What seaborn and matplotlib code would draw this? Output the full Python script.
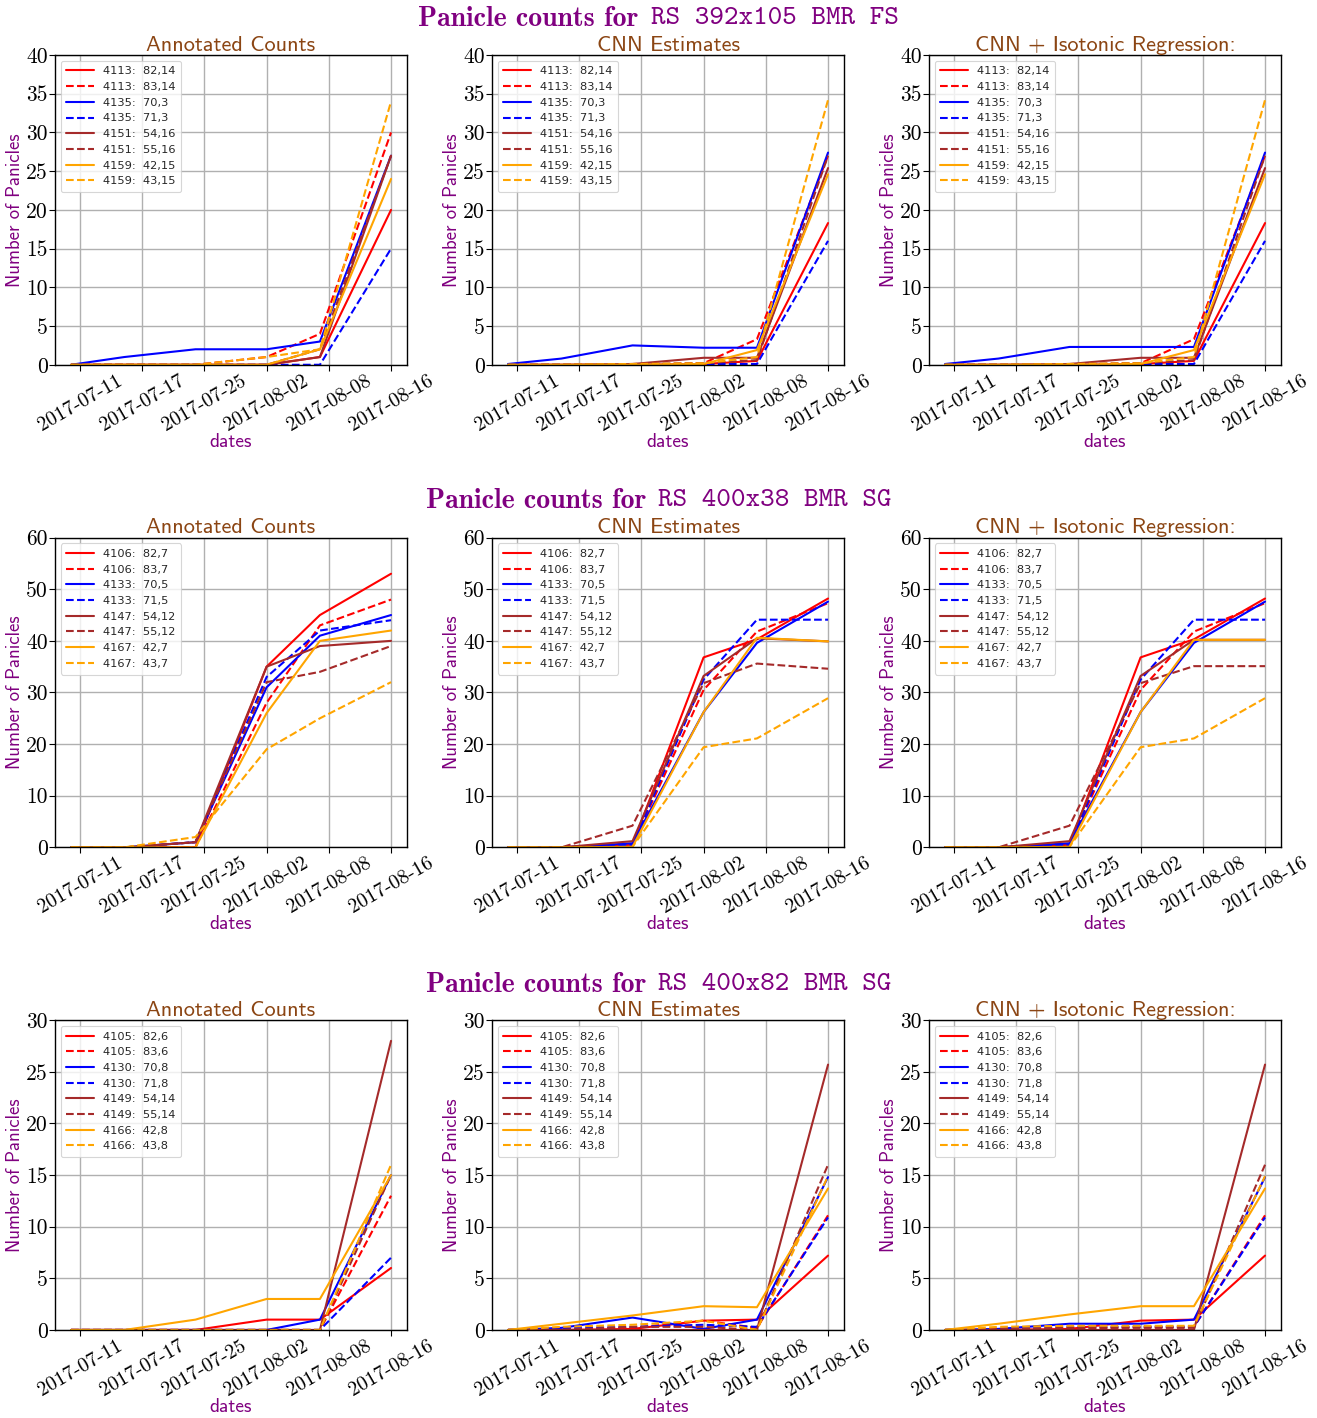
import matplotlib
matplotlib.use("Agg")
import numpy as np
import pandas as pd
import matplotlib.pyplot as plt
import seaborn as sns

# ---------------- data ----------------
dates = ["2017-07-11", "2017-07-17", "2017-07-25", "2017-08-02", "2017-08-08", "2017-08-16"]
tick_labels = ["2017-07-11", "2017-07-17", "2017-07-25", "2017-08-02", "2017-08-08", "2017-08-16"]

row_title_prefix = "Panicle counts for"
row_titles = ["RS 392x105 BMR FS", "RS 400x38 BMR SG", "RS 400x82 BMR SG"]
panel_titles = ["Annotated Counts", "CNN Estimates", "CNN + Isotonic Regression:"]

colors = ["red", "red", "blue", "blue", "brown", "brown", "orange", "orange"]
styles = ["-", "--", "-", "--", "-", "--", "-", "--"]

r1_labels = ["4113:  82,14", "4113:  83,14", "4135:  70,3", "4135:  71,3",
             "4151:  54,16", "4151:  55,16", "4159:  42,15", "4159:  43,15"]
r1_annot = [[0, 0, 0, 0, 1, 20], [0, 0, 0, 1, 4, 30], [0, 1, 2, 2, 3, 27], [0, 0, 0, 0, 0, 15],
            [0, 0, 0, 0, 1, 27], [0, 0, 0, 0, 2, 27], [0, 0, 0, 0, 2, 24], [0, 0, 0, 1, 2, 34]]
r1_cnn = [[0, 0, 0, 0.1, 0.5, 18.3], [0, 0, 0, 0.2, 3.3, 27.0], [0.1, 0.8, 2.5, 2.2, 2.2, 27.4],
          [0, 0, 0, 0.1, 0.1, 16.0], [0, 0, 0.1, 0.9, 0.9, 25.4], [0, 0, 0.1, 0.2, 0.6, 27.0],
          [0, 0, 0, 0.1, 1.9, 24.6], [0, 0, 0.1, 0.2, 1.0, 34.2]]
r1_iso = [[0, 0, 0, 0.1, 0.5, 18.3], [0, 0, 0, 0.2, 3.3, 27.0], [0.1, 0.8, 2.3, 2.3, 2.3, 27.4],
          [0, 0, 0, 0.1, 0.1, 16.0], [0, 0, 0.1, 0.9, 0.9, 25.4], [0, 0, 0.1, 0.2, 0.6, 27.0],
          [0, 0, 0, 0.1, 1.9, 24.6], [0, 0, 0.1, 0.2, 1.0, 34.2]]

r2_labels = ["4106:  82,7", "4106:  83,7", "4133:  70,5", "4133:  71,5",
             "4147:  54,12", "4147:  55,12", "4167:  42,7", "4167:  43,7"]
r2_annot = [[0, 0, 0, 35, 45, 53], [0, 0, 0, 28, 43, 48], [0, 0, 1, 31, 41, 45], [0, 0, 1, 33, 42, 44],
            [0, 0, 1, 35, 39, 40], [0, 0, 1, 32, 34, 39], [0, 0, 0, 26, 40, 42], [0, 0, 2, 19, 25, 32]]
r2_cnn = [[0, 0, 0.5, 36.8, 40.3, 48.2], [0, 0, 0.5, 30.5, 41.8, 47.3], [0, 0, 0.8, 26.2, 39.6, 47.6],
          [0, 0, 0.5, 32.5, 44.1, 44.1], [0, 0, 1.2, 33.2, 40.5, 39.9], [0, 0, 4.2, 31.8, 35.6, 34.6],
          [0, 0, 0.1, 26.2, 40.6, 39.9], [0, 0, 0.1, 19.4, 21.1, 28.9]]
r2_iso = [[0, 0, 0.5, 36.8, 40.3, 48.2], [0, 0, 0.5, 30.5, 41.8, 47.3], [0, 0, 0.8, 26.2, 39.6, 47.6],
          [0, 0, 0.5, 32.5, 44.1, 44.1], [0, 0, 1.2, 33.2, 40.2, 40.2], [0, 0, 4.2, 31.8, 35.1, 35.1],
          [0, 0, 0.1, 26.2, 40.2, 40.2], [0, 0, 0.1, 19.4, 21.1, 28.9]]

r3_labels = ["4105:  82,6", "4105:  83,6", "4130:  70,8", "4130:  71,8",
             "4149:  54,14", "4149:  55,14", "4166:  42,8", "4166:  43,8"]
r3_annot = [[0, 0, 0, 1, 1, 6], [0, 0, 0, 0, 0, 13], [0, 0, 0, 0, 1, 15], [0, 0, 0, 0, 0, 7],
            [0, 0, 0, 0, 0, 28], [0, 0, 0, 0, 0, 15], [0, 0, 1, 3, 3, 15], [0, 0, 0, 0, 0, 16]]
r3_cnn = [[0, 0, 0.1, 0.9, 1.0, 7.2], [0, 0.1, 0.2, 0.9, 0.2, 11.1], [0, 0.2, 1.2, 0.1, 1.0, 14.8],
          [0, 0.2, 0.3, 0.5, 0.3, 10.9], [0, 0, 0, 0, 0, 25.7], [0, 0, 0.3, 0.3, 0, 16.0],
          [0, 0.6, 1.4, 2.3, 2.2, 13.7], [0, 0.3, 0.5, 0.9, 0, 14.9]]
r3_iso = [[0, 0, 0.1, 0.9, 1.0, 7.2], [0, 0, 0.1, 0.3, 0.3, 11.1], [0, 0.1, 0.6, 0.6, 1.0, 14.8],
          [0, 0.1, 0.3, 0.3, 0.3, 10.9], [0, 0, 0, 0, 0, 25.7], [0, 0.1, 0.2, 0.2, 0.2, 16.0],
          [0, 0.6, 1.5, 2.3, 2.3, 13.7], [0, 0.3, 0.4, 0.4, 0.4, 14.9]]

rows = [
    (r1_labels, [r1_annot, r1_cnn, r1_iso], 40, 5),
    (r2_labels, [r2_annot, r2_cnn, r2_iso], 60, 10),
    (r3_labels, [r3_annot, r3_cnn, r3_iso], 30, 5),
]

# ---------------- style ----------------
sns.set_style("whitegrid", {"grid.color": "#b0b0b0", "axes.edgecolor": "black",
                            "xtick.bottom": True, "ytick.left": True,
                            "xtick.color": "black", "ytick.color": "black"})
plt.rcParams["font.family"] = ["DejaVu Sans"]
plt.rcParams["mathtext.fontset"] = "cm"
plt.rcParams["axes.unicode_minus"] = False

PURPLE = "#800080"
BROWN_T = "#8B4513"

fig, axes = plt.subplots(3, 3, figsize=(13.17, 14.18), dpi=100)
fig.subplots_adjust(left=0.0418, right=0.9727, top=0.9612, bottom=0.0621,
                    wspace=0.2415, hspace=0.558)

x = pd.to_datetime(dates)
tick_pos = pd.date_range(end=dates[-1], periods=len(tick_labels), freq="7D")

for r, (labels, panels, ymax, ystep) in enumerate(rows):
    for c, vals in enumerate(panels):
        ax = axes[r, c]
        for lab, v, col, ls in zip(labels, vals, colors, styles):
            sns.lineplot(x=x, y=v, color=col, linestyle=ls, linewidth=1.5,
                         label=lab, ax=ax)
        ax.set_ylim(0, ymax)
        yt = np.arange(0, ymax + 1, ystep)
        ax.set_yticks(yt)
        ax.set_yticklabels([str(int(t)) for t in yt], fontfamily="cmr10", fontsize=15.5)
        ax.set_xticks(tick_pos)
        ax.set_xticklabels(tick_labels, rotation=30, fontfamily="cmr10", fontsize=14.5)
        ax.grid(True, color="#b0b0b0", linewidth=1)
        ax.tick_params(axis="both", length=4, width=0.8, color="black", pad=1)
        for sp in ax.spines.values():
            sp.set_color("black")
            sp.set_linewidth(1.0)
        ax.set_title(panel_titles[c], fontfamily="cmss10", fontsize=16, color=BROWN_T, pad=3)
        ax.set_ylabel("Number of Panicles", fontfamily="cmss10", fontsize=13.5, color=PURPLE, labelpad=2)
        ax.set_xlabel("dates", fontfamily="cmss10", fontsize=14, color=PURPLE, labelpad=-1)
        leg = ax.legend(loc="upper left", fontsize=8.2, handlelength=2.4,
                        handletextpad=0.8, framealpha=0.8, edgecolor="#cccccc",
                        fancybox=True, borderpad=0.5)
        leg.get_frame().set_linewidth(0.8)

# row titles: bold serif prefix + typewriter name, centred as a pair
renderer = fig.canvas.get_renderer()
row_title_y = [1 - 19 / 1418, 1 - 501 / 1418, 1 - 985 / 1418]
gap = 12 / 1317
for r, t in enumerate(row_titles):
    t1 = fig.text(0, row_title_y[r], row_title_prefix, fontfamily="cmb10",
                  fontsize=20, color=PURPLE, ha="left", va="center")
    t2 = fig.text(0, row_title_y[r], t, fontfamily="cmtt10",
                  fontsize=20, color=PURPLE, ha="left", va="center")
    w1 = t1.get_window_extent(renderer).width / fig.bbox.width
    w2 = t2.get_window_extent(renderer).width / fig.bbox.width
    start = 0.5 - (w1 + gap + w2) / 2
    t1.set_x(start)
    t2.set_x(start + w1 + gap)

fig.savefig("out.png", dpi=100)
